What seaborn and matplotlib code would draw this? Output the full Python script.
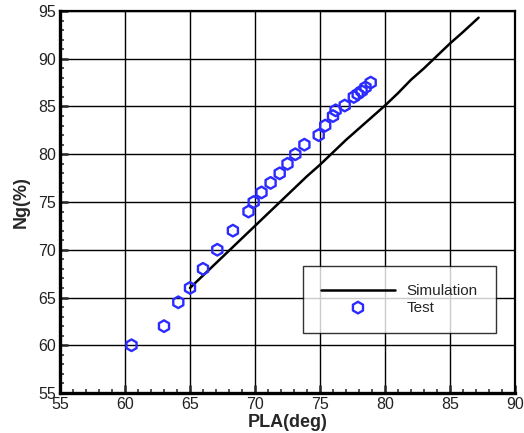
import numpy as np
import pandas as pd
import matplotlib
matplotlib.use('Agg')
import matplotlib.pyplot as plt
from matplotlib.ticker import MultipleLocator
import seaborn as sns

# Simulation curve (PLA vs Ng)
sim_pla = [65, 66, 67, 68, 69, 70, 71, 72, 73, 74, 75, 76, 77, 78, 79, 80,
           81, 82, 83, 84, 85, 86, 87.2]
sim_ng = [66.0, 67.3, 68.6, 69.9, 71.2, 72.5, 73.8, 75.1, 76.4, 77.7, 78.9, 80.2,
          81.5, 82.7, 83.9, 85.1, 86.4, 87.8, 89.0, 90.3, 91.6, 92.8, 94.3]

# Test points
test_pla = [60.5, 63.0, 64.1, 65.0, 66.0, 67.1, 68.3, 69.5, 69.9, 70.5, 71.2, 71.9,
            72.5, 73.1, 73.8, 74.9, 75.4, 76.0, 76.2, 76.9, 77.6, 77.9, 78.2, 78.5, 78.9]
test_ng = [60.0, 62.0, 64.5, 66.0, 68.0, 70.0, 72.0, 74.0, 75.0, 76.0, 77.0, 78.0,
           79.0, 80.0, 81.0, 82.0, 83.0, 84.0, 84.6, 85.1, 86.0, 86.3, 86.6, 87.0, 87.5]

sim = pd.DataFrame({'PLA': sim_pla, 'Ng': sim_ng})
test = pd.DataFrame({'PLA': test_pla, 'Ng': test_ng})

sns.set_style('white')
plt.rcParams['font.family'] = ['Liberation Sans', 'DejaVu Sans']

fig = plt.figure(figsize=(5.24, 4.33), dpi=100)
ax = fig.add_axes([60 / 524, 1 - 393 / 433, 455 / 524, 382 / 433])

sns.lineplot(data=sim, x='PLA', y='Ng', ax=ax, color='black', linewidth=1.8,
             label='Simulation', zorder=3)
sns.scatterplot(data=test, x='PLA', y='Ng', ax=ax, marker='h', s=70,
                facecolor='none', edgecolor='#2b2bff', linewidth=1.7,
                label='Test', zorder=4)

ax.set_xlim(55, 90)
ax.set_ylim(55, 95)
ax.xaxis.set_major_locator(MultipleLocator(5))
ax.yaxis.set_major_locator(MultipleLocator(5))
ax.xaxis.set_minor_locator(MultipleLocator(1))
ax.yaxis.set_minor_locator(MultipleLocator(1))

ax.grid(True, which='major', color='black', linewidth=1.0)
ax.set_axisbelow(True)

ax.tick_params(which='major', direction='in', length=6, width=1.8,
               labelsize=11.5, pad=3, labelcolor='#222222',
               bottom=True, left=True, top=False, right=False)
ax.tick_params(which='minor', direction='in', length=3, width=1.1,
               bottom=True, left=True, top=False, right=False)

for side in ['bottom', 'left']:
    ax.spines[side].set_linewidth(2.4)
for side in ['top', 'right']:
    ax.spines[side].set_linewidth(1.6)
for sp in ax.spines.values():
    sp.set_color('black')

ax.set_xlabel('PLA(deg)', fontsize=13, fontweight='bold', labelpad=1)
ax.set_ylabel('Ng(%)', fontsize=13, fontweight='bold', labelpad=6)

leg = ax.legend(loc='upper left', bbox_to_anchor=(0.534, 0.3325),
                borderaxespad=0, fontsize=11, frameon=True, fancybox=False,
                handlelength=4.8, handletextpad=0.8, borderpad=1.2,
                labelspacing=0.15, edgecolor='black')
leg.get_frame().set_linewidth(1.0)

fig.savefig('out.png', dpi=100)
